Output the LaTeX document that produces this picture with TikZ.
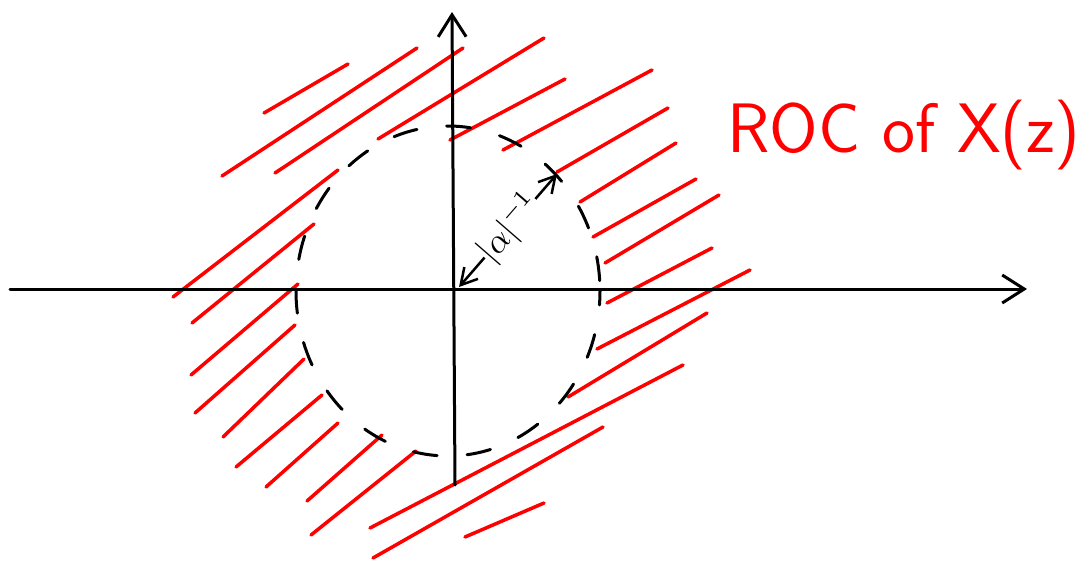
\documentclass[tikz,border=0pt]{standalone}
\usepackage{tikz}
\usetikzlibrary{arrows.meta}
\definecolor{RocRed}{HTML}{FF0000}
\tikzset{
  axisline/.style={line width=3pt,-{Straight Barb[length=22pt,width=28pt,line width=3pt]}},
  hatchline/.style={RocRed,line width=3.5pt},
  unitcirc/.style={line width=3pt,dash pattern=on 24pt off 30pt,dash phase=10pt}
}

\begin{document}
\begin{tikzpicture}[x=1pt,y=-1pt,line cap=round,line join=round]
\useasboundingbox (0,0) rectangle (1089,560);
% hatching of the ROC
\foreach \xa/\ya/\xb/\yb in {264/113/348/64,222/176/417/48,275/173/463/48,378/139/544/38,
  450/140/565/79,503/150/652/70,557/172/668/108,580/202/676/143,593/237/696/179,
  605/263/719/195,607/303/712/248,597/349/750/270,568/397/707/313,370/528/683/365,
  373/558/603/427,465/537/544/503,173/297/338/170,192/323/314/224,191/375/298/284,
  195/413/295/325,223/437/304/359,236/467/322/395,266/487/338/423,307/501/382/435,
  311/535/416/451}{\draw[hatchline] (\xa,\ya)--(\xb,\yb);}
% axes
\coordinate (xl) at (10,289);\coordinate (xr) at (1027,289);
\coordinate (yb) at (455,485);\coordinate (yt) at (452,12);
\draw[axisline] (xl)--(xr);
\draw[axisline] (yb)--(yt);
% circle of radius |alpha|^{-1}
\coordinate (O) at (448,291);
\draw[unitcirc] (O) ellipse [x radius=152,y radius=165];
\coordinate (r0) at (459,287);\coordinate (r1) at (557,174);
\draw[line width=2.5pt,{Straight Barb[length=16pt,width=18pt,line width=2.5pt]}-{Straight Barb[length=16pt,width=18pt,line width=2.5pt]}]
  (r0)--(r1) node[pos=0.52,sloped,fill=white,inner sep=0pt] (lab) {\scalebox{3.4}{$|\alpha|^{-1}$}};
\node[RocRed,anchor=base west,inner sep=0pt] (roc) at (727,152) {\fontsize{70}{76}\selectfont\sffamily ROC of X(z)};
\end{tikzpicture}
\end{document}
